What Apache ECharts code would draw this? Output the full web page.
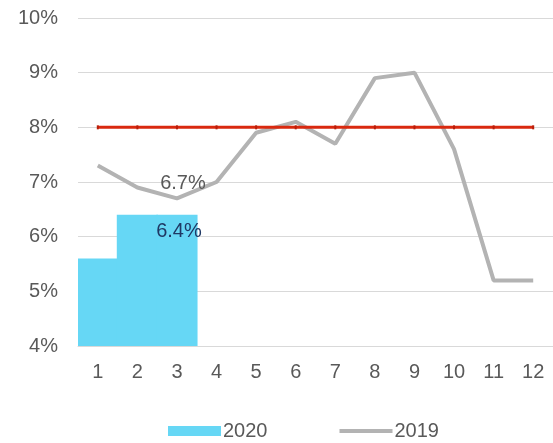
<!DOCTYPE html>
<html>
<head>
<meta charset="utf-8">
<script src="https://cdn.jsdelivr.net/npm/echarts@6/dist/echarts.min.js"></script>
<style>
  html, body { margin: 0; padding: 0; background: #fff; }
</style>
</head>
<body>
<div id="main" style="width: 553px; height: 443px"></div>
<script>
// months on the x axis
var months = ["1", "2", "3", "4", "5", "6", "7", "8", "9", "10", "11", "12"];
// 2020 monthly values (%)
var values2020 = [5.6, 6.4, 6.4];
// 2019 monthly values (%)
var values2019 = [7.3, 6.9, 6.7, 7.0, 7.9, 8.1, 7.7, 8.9, 9.0, 7.6, 5.2, 5.2];
// reference level (%)
var target = [8, 8, 8, 8, 8, 8, 8, 8, 8, 8, 8, 8];

var chartDom = document.getElementById("main");
var myChart = echarts.init(chartDom);
var font = "Liberation Sans, Arial, sans-serif";
var fs = 20;

var barData = values2020.map(function (v, i) {
  if (i === 2) {
    return {
      value: v,
      label: {
        show: true,
        position: "insideTop",
        distance: 7,
        offset: [2, 0],
        color: "#1f3864",
        fontSize: fs,
        fontFamily: font,
        formatter: "{c}%",
      },
    };
  }
  return v;
});

var lineData = values2019.map(function (v, i) {
  if (i === 2) {
    return {
      value: v,
      label: {
        show: true,
        position: "top",
        distance: 5,
        offset: [6, 0],
        color: "#595959",
        fontSize: fs,
        fontFamily: font,
        formatter: "{c}%",
      },
    };
  }
  return v;
});

var option = {
  animation: false,
  grid: {
    left: 78,
    right: 0,
    top: 18,
    bottom: 97,
  },
  legend: {
    data: [
      { name: "2020", icon: "rect" },
      { name: "2019", icon: "path://M0,0H55V4H0Z" },
    ],
    left: 168,
    bottom: 2,
    padding: 0,
    itemWidth: 53,
    itemHeight: 10,
    itemGap: 72,
    textStyle: { color: "#595959", fontSize: fs, fontFamily: font, padding: [0, 0, 0, -3] },
  },
  xAxis: {
    type: "category",
    data: months,
    axisLine: { show: true, lineStyle: { color: "#d9d9d9", width: 1 } },
    axisTick: { show: false },
    axisLabel: { color: "#595959", fontSize: fs, fontFamily: font, margin: 16 },
  },
  yAxis: {
    type: "value",
    min: 4,
    max: 10,
    interval: 1,
    axisLine: { show: false },
    axisTick: { show: false },
    splitLine: { lineStyle: { color: "#d9d9d9", width: 1 } },
    axisLabel: {
      color: "#595959",
      fontSize: fs,
      fontFamily: font,
      margin: 20,
      formatter: "{value}%",
    },
  },
  series: [
    {
      name: "2020",
      type: "bar",
      data: barData,
      barWidth: "104%",
      barCategoryGap: 0,
      itemStyle: { color: "#66d7f5" },
    },
    {
      name: "2019",
      type: "line",
      data: lineData,
      symbol: "circle",
      symbolSize: 0,
      lineStyle: { color: "#b3b3b3", width: 4 },
      itemStyle: { color: "#b3b3b3" },
      z: 3,
    },
    {
      name: "target",
      type: "line",
      data: target,
      symbol: "rect",
      symbolSize: [2, 4],
      lineStyle: { color: "#d9290f", width: 3 },
      itemStyle: { color: "#b81e0a" },
      z: 4,
    },
  ],
};
myChart.setOption(option);
</script>
</body>
</html>
